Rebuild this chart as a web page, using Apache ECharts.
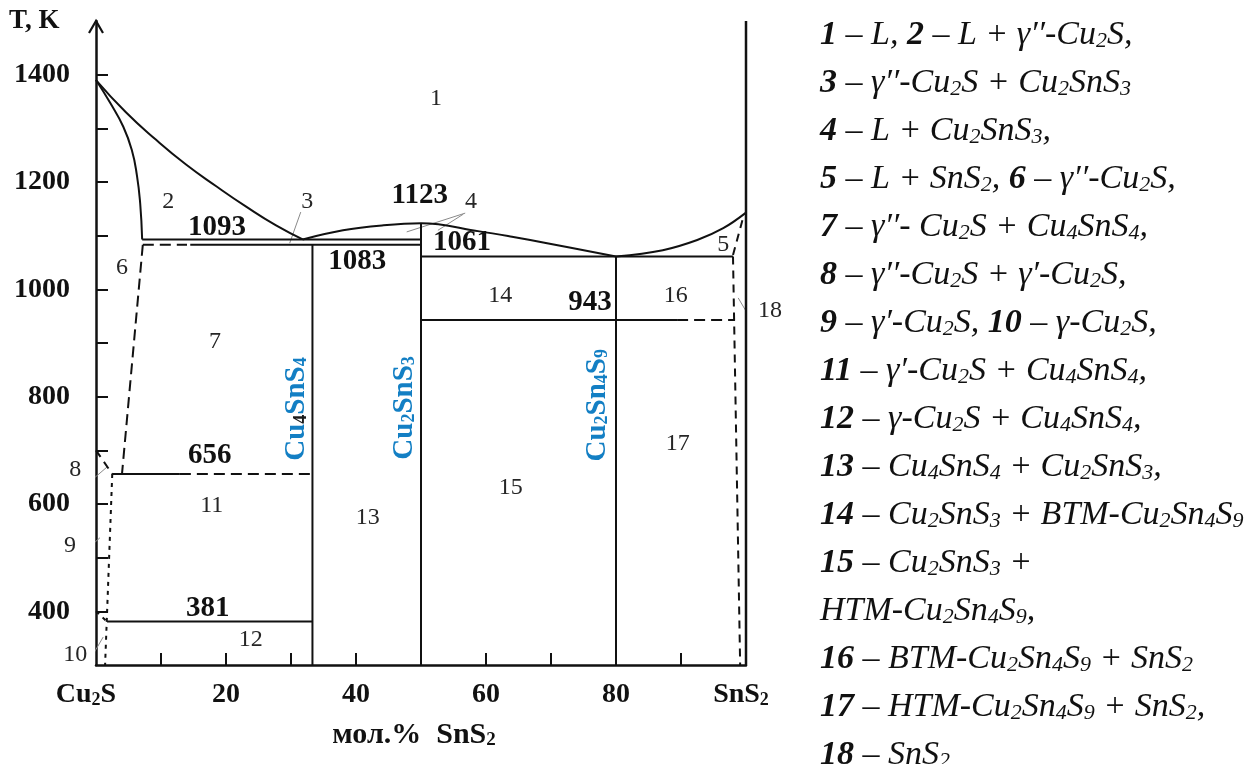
<!DOCTYPE html>
<html>
<head>
<meta charset="utf-8">
<script src="https://cdn.jsdelivr.net/npm/echarts@6/dist/echarts.min.js"></script>
<style>
html, body { margin: 0; padding: 0; background: #fff; }
#chart { width: 1259px; height: 764px; }
</style>
</head>
<body>
<div id="chart"></div>
<script>
// ---- Axis ticks and labels ----
const tempTicks = [400, 500, 600, 700, 800, 900, 1000, 1100, 1200, 1300, 1400];
const tempLabels = [400, 600, 800, 1000, 1200, 1400];
const compTicks = [10, 20, 30, 40, 50, 60, 70, 80, 90];
const compLabels = [0, 20, 40, 60, 80, 100];

// ---- Invariant temperatures, K ----
const tEutectic1 = 1093;
const tCu2SnS3 = 1123;
const tPeritectic = 1083;
const tEutectic2 = 1061;
const tTransition = 943;
const tGamma1 = 656;
const tGamma2 = 381;
const isoTemps = [tEutectic1, tCu2SnS3, tPeritectic, tEutectic2, tTransition, tGamma1, tGamma2];

// ---- Phase boundaries: [mol.% SnS2, T, K] ----
const liquidusCu2S = [[0, 1390], [4.6, 1330], [9.2, 1279], [13.8, 1233], [18.5, 1192], [23.1, 1154], [27.7, 1119], [31.8, tEutectic1]];
const solidusCu2S = [[0, 1390], [2.2, 1347], [4.2, 1303], [5.5, 1260], [6.3, 1212], [6.8, 1160], [7.1, tEutectic1]];
const liquidusCu2SnS3 = [[31.8, tEutectic1], [38, 1110], [44, 1119], [50, tCu2SnS3], [59, 1108], [64, 1098], [69.4, 1086], [80, tEutectic2]];
const liquidusSnS2 = [[80, tEutectic2], [87.2, 1073], [92.5, 1092], [96.5, 1114], [100, 1143]];

const iso1093 = [[7.1, tEutectic1], [50, tEutectic1]];
const iso1083Dashed = [[7.2, tPeritectic], [14, tPeritectic]];
const iso1083 = [[14.5, tPeritectic], [50, tPeritectic]];
const iso1061 = [[50, tEutectic2], [98, tEutectic2]];
const iso943 = [[50, tTransition], [89.4, tTransition]];
const iso943Dashed = [[89.4, tTransition], [98.3, tTransition]];
const iso656 = [[2.5, tGamma1], [12.9, tGamma1]];
const iso656Dashed = [[12.9, tGamma1], [33.3, tGamma1]];
const iso381 = [[1.7, tGamma2], [33.3, tGamma2]];

const lineCu4SnS4 = [[33.3, 300], [33.3, tPeritectic]];
const lineCu2SnS3 = [[50, 300], [50, tCu2SnS3]];
const lineCu2Sn4S9 = [[80, 300], [80, tEutectic2]];
const lineSnS2 = [[100, 300], [100, 1500]];

const solvusGamma2 = [[7.2, tPeritectic], [4, tGamma1]];
const solvusGamma8 = [[0, 700], [2.5, tGamma1]];
const solvusGamma1 = [[2.5, tGamma1], [1.4, 300]];
const solvusGamma0 = [[0, 400], [1.7, tGamma2]];
const solvusSnS2Low = [[98, tEutectic2], [99.1, 300]];
const solvusSnS2High = [[98, 1064], [99.7, 1140]];

// ---- Leader lines for the small fields ----
const leaders = [
  [[31.5, 1144], [29.8, 1086]],
  [[56.8, 1142], [47.8, 1107]],
  [[56.5, 1140], [52.6, 1110]],
  [[105.2, 937], [101.1, 937], [98.8, 984]],
  [[-4.3, 643], [-0.6, 645], [1.7, 669]],
  [[-5.8, 505], [-2.2, 507], [0.6, 537]],
  [[-5.1, 300], [-1.4, 300], [1.1, 352]]
];

// ---- Field numbers ----
const fieldNames = ['1','2','3','4','5','6','7','8','9','10','11','12','13','14','15','16','17','18'];
const fieldPos = [[52.3, 1356], [11.1, 1163], [32.5, 1163], [57.7, 1163], [96.5, 1084], [4.0, 1040],
  [18.3, 902], [-3.2, 663], [-4.0, 522], [-3.2, 320], [17.8, 596], [23.8, 347], [41.8, 574],
  [62.2, 988], [63.8, 630], [89.2, 988], [89.5, 712], [103.7, 960]];

// ---- Invariant temperature labels ----
const isoTempPos = [[18.6, 1116], [49.8, 1174], [40.2, 1051], [56.3, 1088], [76, 975], [17.5, 691], [17.2, 406]];

// ---- Compound labels ----
const compounds = ['{c|Cu}{k|4}{c|SnS}{cs|4}', '{c|Cu}{cs|2}{c|SnS}{cs|3}', '{c|Cu}{cs|2}{c|Sn}{cs|4}{c|S}{cs|9}'];
const compoundPos = [[30.8, 777], [47.4, 779], [77.1, 784]];

// ---- Field legend ----
const legendLines = [
  '{n|1} – L, {n|2} – L + γ′′-Cu{s|2}S,',
  '{n|3} – γ′′-Cu{s|2}S + Cu{s|2}SnS{s|3}',
  '{n|4} – L + Cu{s|2}SnS{s|3},',
  '{n|5} – L + SnS{s|2}, {n|6} – γ′′-Cu{s|2}S,',
  '{n|7} – γ′′- Cu{s|2}S + Cu{s|4}SnS{s|4},',
  '{n|8} – γ′′-Cu{s|2}S + γ′-Cu{s|2}S,',
  '{n|9} – γ′-Cu{s|2}S, {n|10} – γ-Cu{s|2}S,',
  '{n|11} – γ′-Cu{s|2}S + Cu{s|4}SnS{s|4},',
  '{n|12} – γ-Cu{s|2}S + Cu{s|4}SnS{s|4},',
  '{n|13} – Cu{s|4}SnS{s|4} + Cu{s|2}SnS{s|3},',
  '{n|14} – Cu{s|2}SnS{s|3} + BTM-Cu{s|2}Sn{s|4}S{s|9}',
  '{n|15} – Cu{s|2}SnS{s|3} +',
  'HTM-Cu{s|2}Sn{s|4}S{s|9},',
  '{n|16} – BTM-Cu{s|2}Sn{s|4}S{s|9} + SnS{s|2}',
  '{n|17} – HTM-Cu{s|2}Sn{s|4}S{s|9} + SnS{s|2},',
  '{n|18} – SnS{s|2}'
];

const serif = '"Liberation Serif", "Times New Roman", serif';
const ink = '#111';

function boundary(data, opts) {
  opts = opts || {};
  return {
    type: 'line',
    data: data,
    showSymbol: false,
    symbol: 'none',
    smooth: opts.smooth || false,
    clip: !opts.noClip,
    silent: true,
    z: opts.z || 3,
    lineStyle: {
      color: opts.color || ink,
      width: opts.width || 2,
      type: opts.dash || 'solid'
    }
  };
}

const dashLong = [11, 6];
const dashShort = [8, 6];
const dotted = [4, 5];

const series = [
  boundary(liquidusCu2S, { smooth: 0.5 }),
  boundary(solidusCu2S, { smooth: 0.5 }),
  boundary(liquidusCu2SnS3, { smooth: 0.4 }),
  boundary(liquidusSnS2, { smooth: 0.4 }),
  boundary(iso1093),
  boundary(iso1083Dashed, { dash: dashLong }),
  boundary(iso1083),
  boundary(iso1061),
  boundary(iso943),
  boundary(iso943Dashed, { dash: dashLong }),
  boundary(iso656),
  boundary(iso656Dashed, { dash: dashLong }),
  boundary(iso381),
  boundary(lineCu4SnS4),
  boundary(lineCu2SnS3),
  boundary(lineCu2Sn4S9),
  boundary(lineSnS2, { width: 2.5 }),
  boundary(solvusGamma2, { dash: dashLong }),
  boundary(solvusGamma8, { dash: dashShort }),
  boundary(solvusGamma1, { dash: dotted }),
  boundary(solvusGamma0, { dash: dotted }),
  boundary(solvusSnS2Low, { dash: dashShort }),
  boundary(solvusSnS2High, { dash: dashShort })
];

leaders.forEach(function (l) {
  series.push(boundary(l, { color: '#8a8a8a', width: 1, noClip: true, z: 2 }));
});

function textSeries(data, label) {
  return {
    type: 'scatter',
    symbolSize: 0,
    clip: false,
    silent: true,
    z: 5,
    itemStyle: { opacity: 1 },
    data: data,
    label: Object.assign({ show: true, position: 'inside', formatter: '{b}' }, label)
  };
}

series.push(textSeries(
  fieldNames.map(function (n, i) { return { name: n, value: fieldPos[i] }; }),
  { fontFamily: serif, fontSize: 24, color: '#262626' }
));

series.push(textSeries(
  isoTemps.map(function (t, i) { return { name: String(t), value: isoTempPos[i] }; }),
  { fontFamily: serif, fontSize: 29, fontWeight: 'bold', color: ink }
));

const blue = '#137fc4';
series.push(textSeries(
  compounds.map(function (c, i) { return { name: c, value: compoundPos[i] }; }),
  {
    rotate: 90,
    rich: {
      c: { fontFamily: serif, fontSize: 29, fontWeight: 'bold', color: blue, lineHeight: 32 },
      cs: { fontFamily: serif, fontSize: 18, fontWeight: 'bold', color: blue, lineHeight: 32, padding: [10, 0, 0, 0] },
      k: { fontFamily: serif, fontSize: 18, fontWeight: 'bold', color: '#1a1a1a', lineHeight: 32, padding: [10, 0, 0, 0] }
    }
  }
));

const axisFont = { fontFamily: serif, fontSize: 28, fontWeight: 'bold', color: ink };
const subFont = { fontFamily: serif, fontSize: 18, fontWeight: 'bold', color: ink };

const option = {
  animation: false,
  backgroundColor: '#fff',
  title: {
    left: 820,
    top: 11,
    padding: 0,
    text: legendLines.join('\n'),
    textStyle: {
      fontFamily: serif, fontStyle: 'italic', fontWeight: 'normal', fontSize: 34, lineHeight: 48, color: ink,
      rich: {
        n: { fontFamily: serif, fontStyle: 'italic', fontWeight: 'bold', fontSize: 34, lineHeight: 48, color: ink },
        s: { fontFamily: serif, fontStyle: 'italic', fontWeight: 'normal', fontSize: 22, lineHeight: 48, color: ink, padding: [12, 0, 0, 0] }
      }
    }
  },
  grid: { left: 96, right: 513, top: 21, bottom: 99 },
  xAxis: {
    type: 'value', min: 0, max: 100,
    splitLine: { show: false },
    axisLine: { onZero: false, lineStyle: { color: ink, width: 2.5 } },
    axisTick: { inside: true, length: 12, customValues: compTicks, lineStyle: { color: ink, width: 2 } },
    axisLabel: {
      customValues: compLabels, margin: 16,
      formatter: function (v) {
        if (v === 0) return '{a|Cu}{as|2}{ap|S}';
        if (v === 100) return '{a|SnS}{asp|2}';
        return '{a|' + v + '}';
      },
      rich: {
        a: axisFont,
        ap: Object.assign({}, axisFont, { padding: [0, 20, 0, 0] }),
        as: Object.assign({}, subFont, { padding: [10, 0, 0, 0] }),
        asp: Object.assign({}, subFont, { padding: [10, 10, 0, 0] })
      }
    },
    name: '{a|мол.%  SnS}{as|2}',
    nameLocation: 'middle',
    nameGap: 55,
    nameTextStyle: {
      padding: [0, 14, 0, 0],
      rich: {
        a: Object.assign({}, axisFont, { fontSize: 30 }),
        as: Object.assign({}, subFont, { fontSize: 19, padding: [10, 0, 0, 0] })
      }
    }
  },
  yAxis: {
    type: 'value', min: 300, max: 1500, interval: 100,
    splitLine: { show: false },
    axisLine: { onZero: false, lineStyle: { color: ink, width: 2.5 } },
    axisTick: { inside: true, length: 12, customValues: tempTicks, lineStyle: { color: ink, width: 2 } },
    axisLabel: Object.assign({
      customValues: tempLabels, margin: 26,
      formatter: function (v) { return String(v); }
    }, axisFont)
  },
  series: series
};

const chart = echarts.init(document.getElementById('chart'), null, { renderer: 'canvas' });
chart.setOption(option);

// Open arrow head on the temperature axis and the axis caption
const arrowTip = chart.convertToPixel({ gridIndex: 0 }, [0, 1500]);
chart.setOption({
  graphic: [
    {
      type: 'polyline', silent: true, z: 10,
      shape: { points: [[arrowTip[0] - 7, arrowTip[1] + 12], [arrowTip[0], arrowTip[1]], [arrowTip[0] + 7, arrowTip[1] + 12]] },
      style: { stroke: ink, lineWidth: 2.2, fill: null }
    },
    {
      type: 'text', silent: true, left: 9, top: 8,
      style: { text: 'T, K', font: 'bold 27px ' + serif, fill: ink }
    }
  ]
});
</script>
</body>
</html>
